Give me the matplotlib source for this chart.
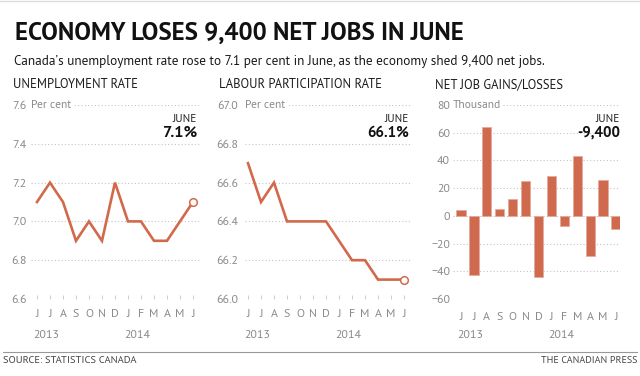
import os
import matplotlib.pyplot as plt
import matplotlib.transforms as mtransforms
from matplotlib import font_manager as fm
from matplotlib.lines import Line2D
import numpy as np

# data, June 2013 - June 2014
months = ["J", "J", "A", "S", "O", "N", "D", "J", "F", "M", "A", "M", "J"]
years = ["2013", "2014"]
year_pos = [-0.3, 6.75]
unemployment = [7.1, 7.2, 7.1, 6.9, 7.0, 6.9, 7.2, 7.0, 7.0, 6.9, 6.9, 7.0, 7.1]
participation = [66.7, 66.5, 66.6, 66.4, 66.4, 66.4, 66.4, 66.3, 66.2, 66.2, 66.1, 66.1, 66.1]
net_jobs = [4, -43, 64, 5, 12, 25, -44, 29, -7, 43, -29, 26, -9.4]

ORANGE = "#D2694B"
GRAY = "#8a8a8a"
GRID = "#c4c4c4"

_files = {os.path.basename(f.fname).lower(): f.fname for f in fm.fontManager.ttflist}


def pick(names, fallback_weight="normal"):
    for n in names:
        if n.lower() in _files:
            return fm.FontProperties(fname=_files[n.lower()])
    return fm.FontProperties(family="DejaVu Sans", weight=fallback_weight)


REG = pick(["SourceSans3-Regular.ttf", "SourceSansPro-Regular.ttf", "PTSans-Regular.ttf",
            "PT_Sans-Web-Regular.ttf", "Lato-Regular.ttf"])
BOLD = pick(["SourceSans3-Bold.ttf", "SourceSansPro-Bold.ttf", "PTSans-Bold.ttf",
             "PT_Sans-Web-Bold.ttf", "Lato-Bold.ttf"], "bold")


def fp(base, size):
    p = base.copy()
    p.set_size(size)
    return p


W, H = 640, 376
fig = plt.figure(figsize=(W / 100, H / 100), dpi=100)
to_fit = []  # (text, target width in px)


def rect(left, right, top, bottom):
    return [left / W, 1 - bottom / H, (right - left) / W, (bottom - top) / H]


def ftext(px, py, s, prop, color, ha="left", width=None):
    t = fig.text(px / W, 1 - py / H, s, ha=ha, va="baseline", fontproperties=prop, color=color)
    if width:
        to_fit.append((t, width))
    return t


def style_axis(ax, ylim, yticks, unit, unit_w, xlim, title, title_x, title_w,
               right_px, last_label, last_w, ticks_in=True, ypad=3):
    ax.set_xlim(xlim)
    ax.set_ylim(ylim)
    ax.set_yticks(yticks)
    ax.set_xticks(range(len(months)))
    ax.set_xticklabels(months)
    for s in ax.spines.values():
        s.set_visible(False)
    ax.grid(axis="y", color=GRID, linestyle=(0, (1, 2)), linewidth=0.8)
    ax.set_axisbelow(True)
    ax.tick_params(axis="y", length=0, pad=ypad, labelcolor=GRAY)
    if ticks_in:
        ax.tick_params(axis="x", direction="in", length=3, width=0.6, color=GRID,
                       pad=7, labelcolor=GRAY)
    else:
        ax.tick_params(axis="x", length=0, pad=9, labelcolor=GRAY)
    for lab in ax.get_xticklabels() + ax.get_yticklabels():
        lab.set_fontproperties(fp(REG, 8.6))
    u = ax.text(0.0, 1.0, unit, transform=ax.transAxes, ha="left", va="center",
                fontproperties=fp(REG, 8.6), color=GRAY,
                bbox=dict(facecolor="white", edgecolor="none", pad=1.5), zorder=5)
    to_fit.append((u, unit_w))
    ftext(right_px, 122, "JUNE", fp(REG, 8.6), "#222222", ha="right", width=24)
    ftext(right_px, 137, last_label, fp(BOLD, 11.5), "#111111", ha="right", width=last_w)
    tr = mtransforms.blended_transform_factory(ax.transData, fig.transFigure)
    for yp, yl in zip(year_pos, years):
        ax.text(yp, 1 - 338 / H, yl, transform=tr, ha="left",
                va="baseline", fontproperties=fp(REG, 8.6), color=GRAY)
    ftext(title_x, 88, title, fp(REG, 9.2), "#1a1a1a", width=title_w)


x = np.arange(len(months))

# unemployment rate
ax1 = fig.add_axes(rect(31, 200, 105, 299))
ax1.plot(x, unemployment, color=ORANGE, lw=1.9, solid_joinstyle="miter", zorder=3)
ax1.plot(x[-1], unemployment[-1], "o", ms=5.5, mfc="white", mec=ORANGE, mew=1.1, zorder=4)
ax1.yaxis.set_major_formatter("{x:.1f}")
style_axis(ax1, (6.6, 7.6), [6.6, 6.8, 7.0, 7.2, 7.4, 7.6], "Per cent", 40,
           (-0.46, 12.54), "UNEMPLOYMENT RATE", 13, 125, 197, "7.1%", 34)

# participation rate
ax2 = fig.add_axes(rect(245, 410, 105, 299))
ax2.plot(x, participation, color=ORANGE, lw=1.9, solid_joinstyle="miter", zorder=3)
ax2.plot(x[-1], participation[-1], "o", ms=5.5, mfc="white", mec=ORANGE, mew=1.1, zorder=4)
ax2.yaxis.set_major_formatter("{x:.1f}")
style_axis(ax2, (66.0, 67.0), [66.0, 66.2, 66.4, 66.6, 66.8, 67.0], "Per cent", 40,
           (-0.23, 12.46), "LABOUR PARTICIPATION RATE", 219, 162, 409, "66.1%", 42, ypad=5)

# net job gains / losses
ax3 = fig.add_axes(rect(453, 620, 105, 299))
ax3.bar(x, net_jobs, width=0.72, color="#CF6A4E", edgecolor="#e8a897", linewidth=0.5, zorder=3)
ax3.yaxis.set_major_formatter("{x:.0f}")
style_axis(ax3, (-60, 80), [-60, -40, -20, 0, 20, 40, 60, 80], "Thousand", 48,
           (-0.62, 12.31), "NET JOB GAINS/LOSSES", 435, 127, 620, "-9,400", 43,
           ticks_in=False, ypad=2)

# header and footer
fig.add_artist(Line2D([0, 1], [1 - 1 / H, 1 - 1 / H], color="#dddddd", lw=1.0))
ftext(15, 40, "ECONOMY LOSES 9,400 NET JOBS IN JUNE", fp(BOLD, 16.5), "#111111", width=448)
ftext(14, 65, "Canada\u2019s unemployment rate rose to 7.1 per cent in June, "
      "as the economy shed 9,400 net jobs.", fp(REG, 9.6), "#1a1a1a", width=533)
fig.add_artist(Line2D([3 / W, 637 / W], [1 - 352 / H, 1 - 352 / H], color="#999999", lw=0.8))
ftext(3, 363, "SOURCE: STATISTICS CANADA", fp(REG, 7.0), "#444444", width=133)
ftext(637, 363, "THE CANADIAN PRESS", fp(REG, 7.0), "#444444", ha="right", width=97)

# scale text sizes so widths match the original layout
for _ in range(2):
    fig.canvas.draw()
    r = fig.canvas.get_renderer()
    for t, w in to_fit:
        bb = t.get_window_extent(r)
        t.set_fontsize(t.get_fontsize() * w / bb.width)

fig.savefig("out.png", dpi=100)
